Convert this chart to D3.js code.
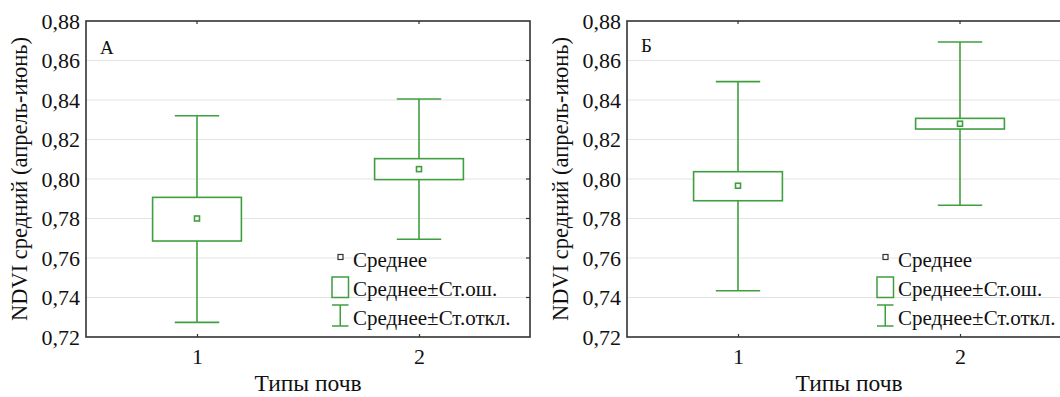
<!DOCTYPE html>
<html><head><meta charset="utf-8">
<script src="https://cdn.jsdelivr.net/npm/d3@7"></script>
<style>body{margin:0;background:#fff}svg{display:block}</style>
</head><body>
<svg id="c" width="1060" height="397"></svg>
<script>
const categories = [1, 2];
const yTicks = [0.72, 0.74, 0.76, 0.78, 0.80, 0.82, 0.84, 0.86, 0.88];
const panelLetters = ["А", "Б"];
// Panel A
const meanA   = [0.780, 0.805];
const seLowA  = [0.7686, 0.7997];
const seHighA = [0.7907, 0.8103];
const sdLowA  = [0.7274, 0.7695];
const sdHighA = [0.8320, 0.8405];
// Panel Б
const meanB   = [0.7966, 0.8280];
const seLowB  = [0.7890, 0.8253];
const seHighB = [0.8037, 0.8307];
const sdLowB  = [0.7434, 0.7867];
const sdHighB = [0.8493, 0.8694];
const legendLabels = ["Среднее", "Среднее±Ст.ош.", "Среднее±Ст.откл."];
const xTitle = "Типы почв";
const yTitle = "NDVI средний (апрель-июнь)";

const FONT = "'Liberation Serif', 'Times New Roman', 'DejaVu Serif', serif";
const green = "#3f9f3f";
const svg = d3.select("#c");
const pTop = 21, pBottom = 337, pw = 444;

function panel(left, letter, letterY, lgOff, mean, seL, seH, sdL, sdH) {
  const g = svg.append("g").attr("font-family", FONT).attr("fill", "#111");
  const y = d3.scaleLinear().domain([0.72, 0.88]).range([pBottom, pTop]);
  const x = d3.scaleLinear().domain([0.5, 2.5]).range([left, left + pw]);
  g.selectAll(".grid").data(yTicks.slice(1, -1)).join("line")
    .attr("x1", left).attr("x2", left + pw)
    .attr("y1", d => y(d)).attr("y2", d => y(d))
    .attr("stroke", "#e3e3e3").attr("stroke-width", 1.2);
  g.append("rect").attr("x", left).attr("y", pTop).attr("width", pw).attr("height", pBottom - pTop)
    .attr("fill", "none").attr("stroke", "#333").attr("stroke-width", 1.6);
  const ax = g.append("g").attr("transform", `translate(${left},0)`)
    .call(d3.axisLeft(y).tickValues(yTicks).tickSize(0).tickPadding(6)
      .tickFormat(d => d3.format(".2f")(d).replace(".", ",")));
  ax.attr("font-family", FONT).attr("font-size", 22);
  ax.select(".domain").remove();
  ax.selectAll("text").attr("fill", "#111");
  g.selectAll(".rt").data(yTicks.slice(1, -1)).join("line")
    .attr("x1", left + pw - 4).attr("x2", left + pw)
    .attr("y1", d => y(d)).attr("y2", d => y(d)).attr("stroke", "#333").attr("stroke-width", 1.2);
  const bx = g.append("g").attr("transform", `translate(0,${pBottom})`)
    .call(d3.axisBottom(x).tickValues(categories).tickSize(-3).tickPadding(11).tickFormat(d3.format("d")));
  bx.attr("font-family", FONT).attr("font-size", 22);
  bx.select(".domain").remove();
  bx.selectAll("line").attr("stroke", "#333").attr("stroke-width", 1.2);
  bx.selectAll("text").attr("fill", "#111");
  g.selectAll(".tt").data(categories).join("line")
    .attr("x1", d => x(d)).attr("x2", d => x(d)).attr("y1", pTop).attr("y2", pTop + 3)
    .attr("stroke", "#333").attr("stroke-width", 1.2);
  g.append("text").attr("x", left + pw / 2).attr("y", 391).attr("text-anchor", "middle")
    .attr("font-size", 23.5).text(xTitle);
  g.append("text").attr("transform", `translate(${left - 59},${(pTop + pBottom) / 2}) rotate(-90)`)
    .attr("text-anchor", "middle").attr("font-size", 22.5).text(yTitle);
  g.append("text").attr("x", left + 14).attr("y", letterY).attr("font-size", 19).text(letter);
  const bw = x(0.7) - x(0.5), cw = x(0.6) - x(0.5);
  categories.forEach((c, i) => {
    const cx = x(c);
    const s = g.append("g").attr("stroke", green).attr("stroke-width", 1.6).attr("fill", "none");
    s.append("line").attr("x1", cx).attr("x2", cx).attr("y1", y(sdH[i])).attr("y2", y(seH[i]));
    s.append("line").attr("x1", cx).attr("x2", cx).attr("y1", y(seL[i])).attr("y2", y(sdL[i]));
    s.append("line").attr("x1", cx - cw).attr("x2", cx + cw).attr("y1", y(sdH[i])).attr("y2", y(sdH[i]));
    s.append("line").attr("x1", cx - cw).attr("x2", cx + cw).attr("y1", y(sdL[i])).attr("y2", y(sdL[i]));
    s.append("rect").attr("x", cx - bw).attr("width", 2 * bw)
      .attr("y", y(seH[i])).attr("height", y(seL[i]) - y(seH[i])).attr("fill", "#fff");
    s.append("rect").attr("x", cx - 2.5).attr("y", y(mean[i]) - 2.5).attr("width", 5).attr("height", 5).attr("fill", "#fff");
  });
  const lx = left + lgOff, tx = lx + 21;
  const textY = [267, 296, 325];
  g.append("rect").attr("x", lx + 6).attr("y", 254.5).attr("width", 5).attr("height", 5)
    .attr("fill", "#fff").attr("stroke", "#333").attr("stroke-width", 1.2);
  g.append("rect").attr("x", lx).attr("y", 277).attr("width", 16.5).attr("height", 20.5)
    .attr("fill", "#fff").attr("stroke", green).attr("stroke-width", 1.5);
  const wl = g.append("g").attr("stroke", green).attr("stroke-width", 1.5);
  wl.append("line").attr("x1", lx).attr("x2", lx + 16.5).attr("y1", 305).attr("y2", 305);
  wl.append("line").attr("x1", lx).attr("x2", lx + 16.5).attr("y1", 326).attr("y2", 326);
  wl.append("line").attr("x1", lx + 8.25).attr("x2", lx + 8.25).attr("y1", 305).attr("y2", 326);
  g.selectAll(".lt").data(legendLabels).join("text")
    .attr("x", tx).attr("y", (d, i) => textY[i]).attr("font-size", 21).text(d => d);
}
panel(86, panelLetters[0], 54, 246, meanA, seLowA, seHighA, sdLowA, sdHighA);
panel(627, panelLetters[1], 52, 250, meanB, seLowB, seHighB, sdLowB, sdHighB);
</script>
</body></html>
